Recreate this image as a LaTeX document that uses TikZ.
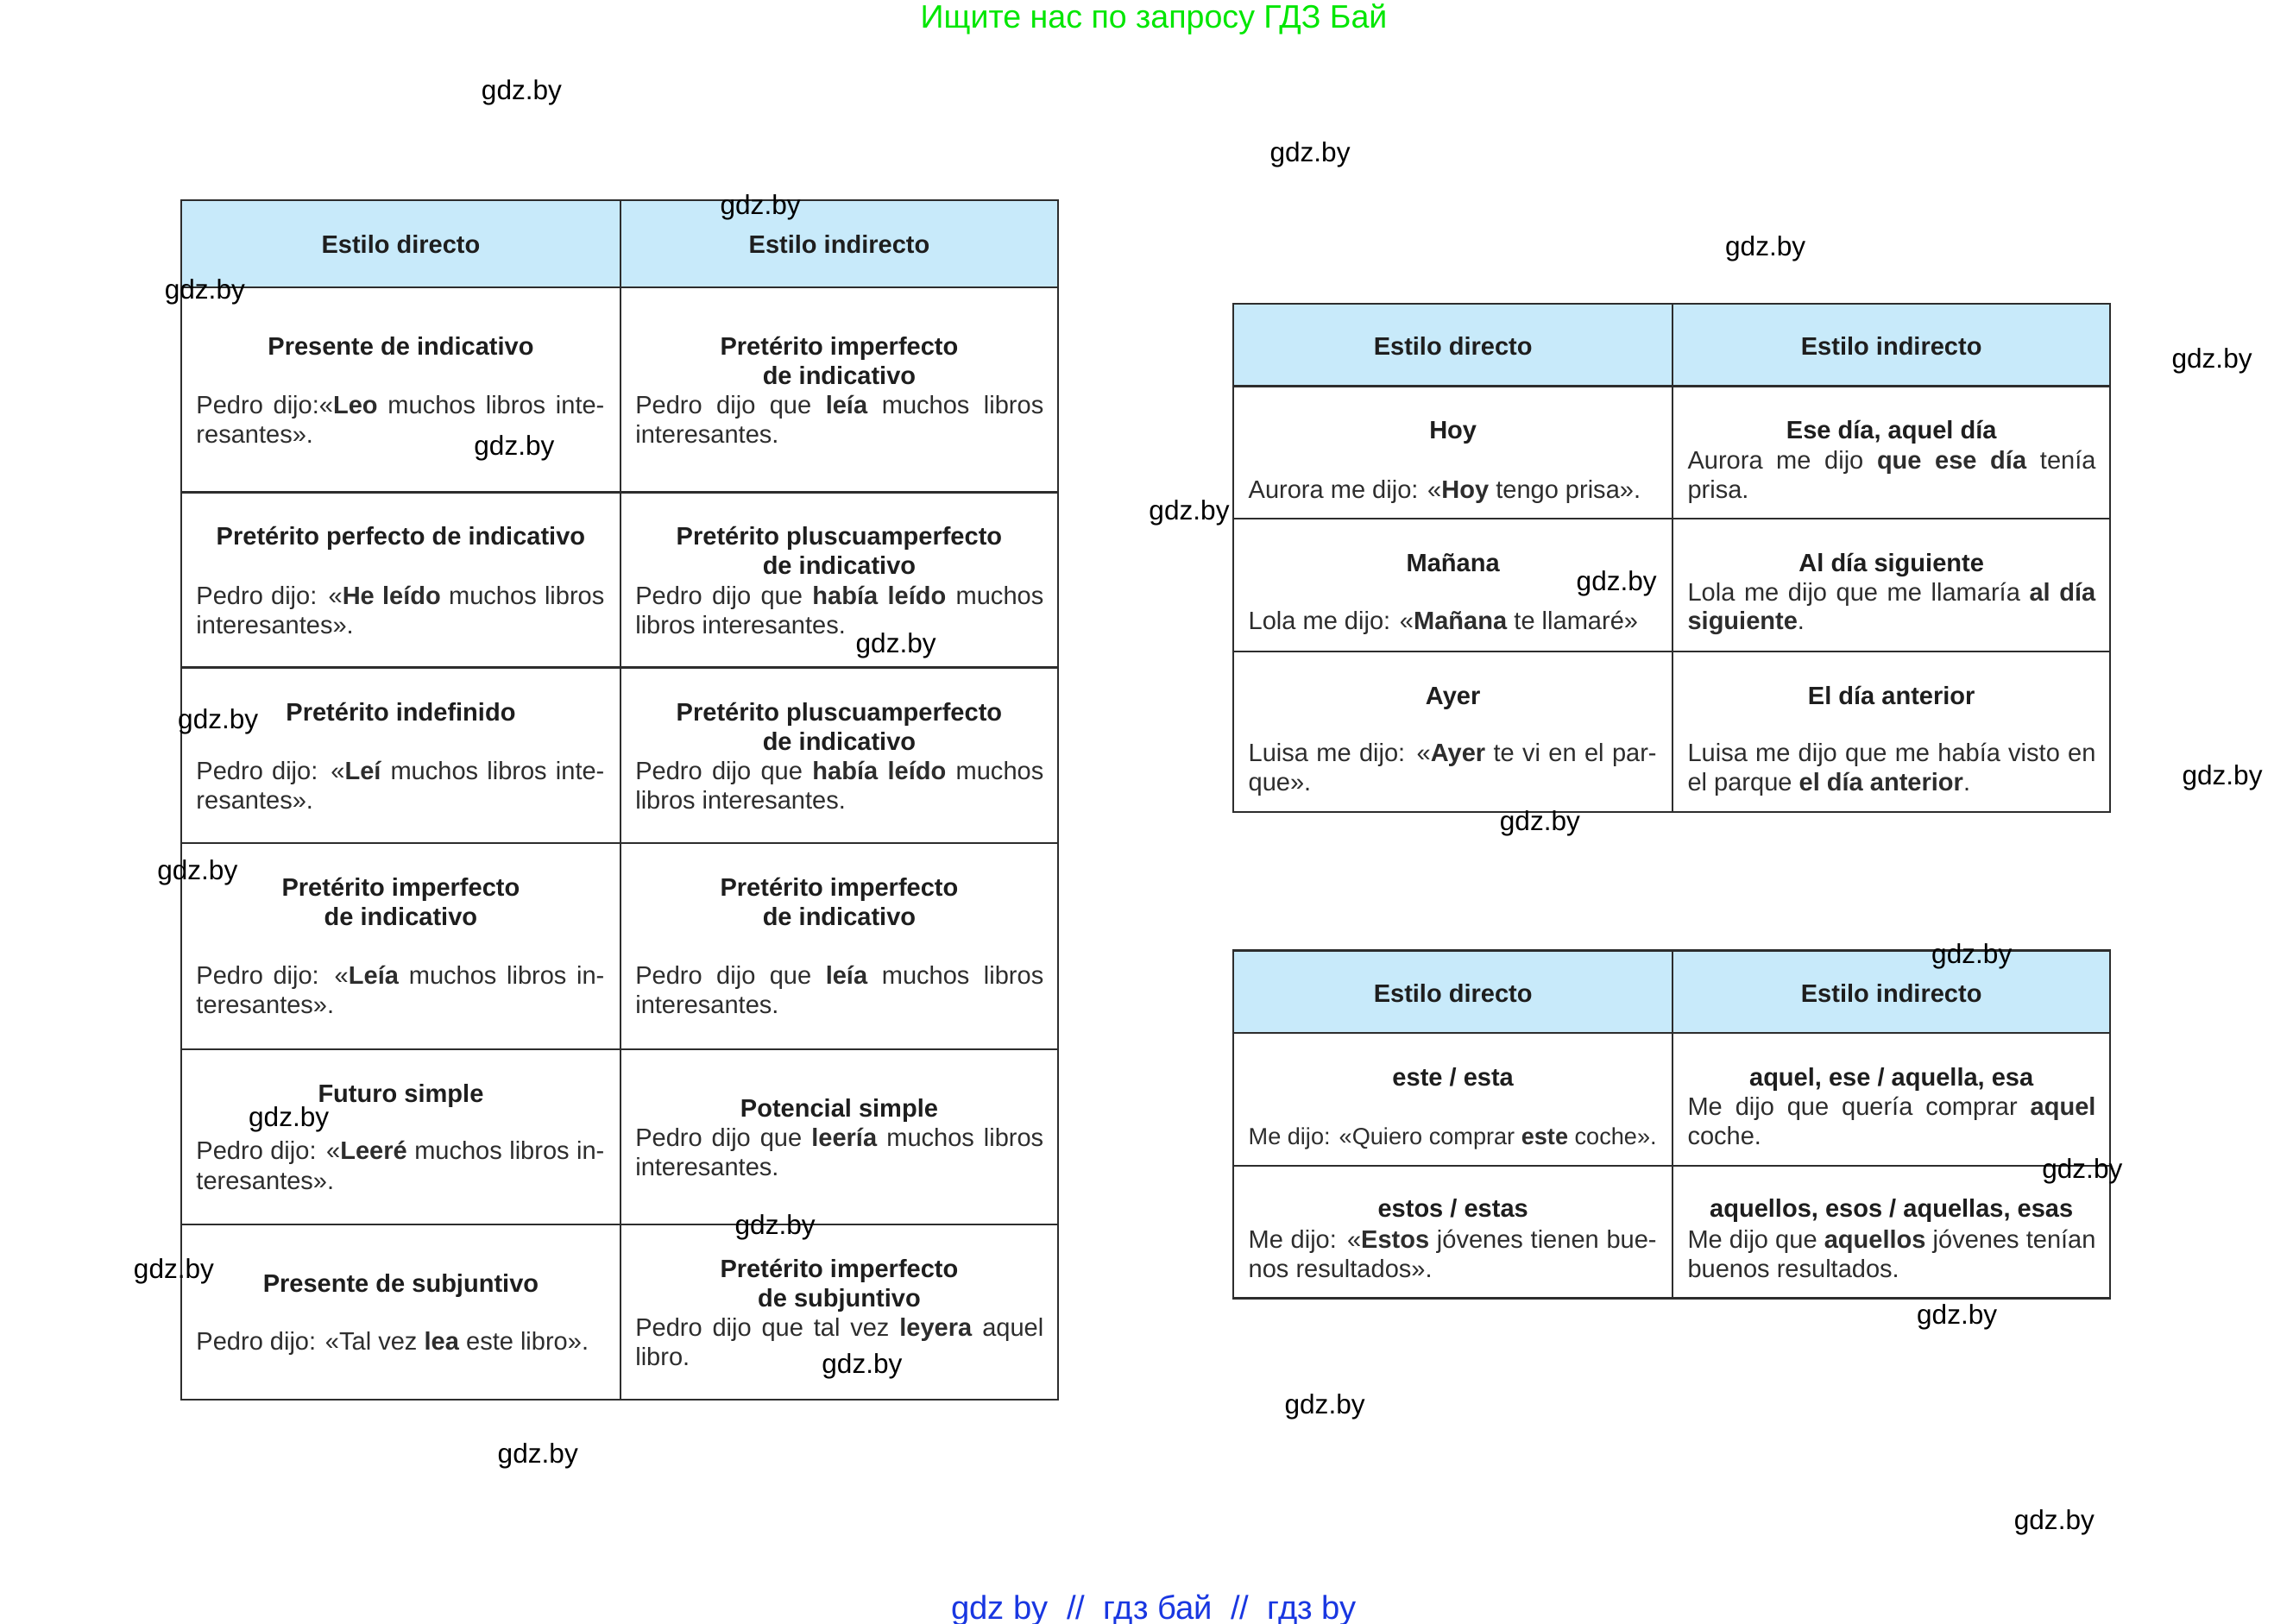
\documentclass[tikz,border=0pt]{standalone}
\usepackage{fontspec}
\setmainfont{Liberation Sans}
\definecolor{hdr}{RGB}{200,234,250}
\definecolor{gridc}{RGB}{45,45,45}
\definecolor{ttlc}{RGB}{30,30,30}
\definecolor{txtc}{RGB}{45,45,45}
\definecolor{topgreen}{RGB}{0,230,0}
\definecolor{botblue}{RGB}{25,55,225}
\newcommand\jl[1]{\makebox[277pt][s]{#1}}
\tikzset{
  ttl/.style={anchor=base, inner sep=0pt, text=ttlc, font=\fontsize{17}{20}\selectfont\bfseries},
  txt/.style={anchor=base west, inner sep=0pt, text=txtc, font=\fontsize{17}{20}\selectfont},
  gridline/.style={draw=gridc, line width=1.4pt},
  wm/.style={anchor=center, inner sep=0pt, text=black, font=\fontsize{18.5}{20}\selectfont},
}
\begin{document}
\begin{tikzpicture}[x=1pt,y=-1pt]
\useasboundingbox (0,0) rectangle (1556,1102);
\fill[white] (0,0) rectangle (1556,1102);

% ---------------- Table 1 ----------------
\fill[hdr] (123,136) rectangle (718,195);
\draw[gridline] (123,136) rectangle (718,950);
\draw[gridline] (421,136) -- (421,950);
\foreach \yy in {195,334,453,572,712,831} \draw[gridline] (123,\yy) -- (718,\yy);

\node[ttl] (a0l) at (272,172) {Estilo directo};
\node[ttl] (a0r) at (569.5,172) {Estilo indirecto};

\node[ttl] (a1lt) at (272,241) {Presente de indicativo};
\node[txt] (a1l1) at (133,281) {\jl{Pedro dijo:«\textbf{Leo} muchos libros inte-}};
\node[txt] (a1l2) at (133,301) {resantes».};
\node[ttl] (a1rt) at (569.5,241) {Pretérito imperfecto};
\node[ttl] (a1rt2) at (569.5,261) {de indicativo};
\node[txt] (a1r1) at (431,281) {\jl{Pedro dijo que \textbf{leía} muchos libros}};
\node[txt] (a1r2) at (431,301) {interesantes.};

\node[ttl] (a2lt) at (272,370) {Pretérito perfecto de indicativo};
\node[txt] (a2l1) at (133,410) {\jl{Pedro dijo: «\textbf{He leído} muchos libros}};
\node[txt] (a2l2) at (133,430) {interesantes».};
\node[ttl] (a2rt) at (569.5,370) {Pretérito pluscuamperfecto};
\node[ttl] (a2rt2) at (569.5,390) {de indicativo};
\node[txt] (a2r1) at (431,410) {\jl{Pedro dijo que \textbf{había leído} muchos}};
\node[txt] (a2r2) at (431,430) {libros interesantes.};

\node[ttl] (a3lt) at (272,489) {Pretérito indefinido};
\node[txt] (a3l1) at (133,529) {\jl{Pedro dijo: «\textbf{Leí} muchos libros inte-}};
\node[txt] (a3l2) at (133,549) {resantes».};
\node[ttl] (a3rt) at (569.5,489) {Pretérito pluscuamperfecto};
\node[ttl] (a3rt2) at (569.5,509) {de indicativo};
\node[txt] (a3r1) at (431,529) {\jl{Pedro dijo que \textbf{había leído} muchos}};
\node[txt] (a3r2) at (431,549) {libros interesantes.};

\node[ttl] (a4lt) at (272,608) {Pretérito imperfecto};
\node[ttl] (a4lt2) at (272,628) {de indicativo};
\node[txt] (a4l1) at (133,668) {\jl{Pedro dijo: «\textbf{Leía} muchos libros in-}};
\node[txt] (a4l2) at (133,688) {teresantes».};
\node[ttl] (a4rt) at (569.5,608) {Pretérito imperfecto};
\node[ttl] (a4rt2) at (569.5,628) {de indicativo};
\node[txt] (a4r1) at (431,668) {\jl{Pedro dijo que \textbf{leía} muchos libros}};
\node[txt] (a4r2) at (431,688) {interesantes.};

\node[ttl] (a5lt) at (272,748) {Futuro simple};
\node[txt] (a5l1) at (133,787) {\jl{Pedro dijo: «\textbf{Leeré} muchos libros in-}};
\node[txt] (a5l2) at (133,807) {teresantes».};
\node[ttl] (a5rt) at (569.5,758) {Potencial simple};
\node[txt] (a5r1) at (431,778) {\jl{Pedro dijo que \textbf{leería} muchos libros}};
\node[txt] (a5r2) at (431,798) {interesantes.};

\node[ttl] (a6lt) at (272,877) {Presente de subjuntivo};
\node[txt] (a6l1) at (133,916) {Pedro dijo: «Tal vez \textbf{lea} este libro».};
\node[ttl] (a6rt) at (569.5,867) {Pretérito imperfecto};
\node[ttl] (a6rt2) at (569.5,887) {de subjuntivo};
\node[txt] (a6r1) at (431,907) {\jl{Pedro dijo que tal vez \textbf{leyera} aquel}};
\node[txt] (a6r2) at (431,927) {libro.};

% ---------------- Table 2 ----------------
\fill[hdr] (837,206) rectangle (1432,262);
\draw[gridline] (837,206) rectangle (1432,551);
\draw[gridline] (1135,206) -- (1135,551);
\foreach \yy in {262,352,442} \draw[gridline] (837,\yy) -- (1432,\yy);

\node[ttl] (b0l) at (986,241) {Estilo directo};
\node[ttl] (b0r) at (1283.5,241) {Estilo indirecto};

\node[ttl] (b1lt) at (986,298) {Hoy};
\node[txt] (b1l1) at (847,338) {Aurora me dijo: «\textbf{Hoy} tengo prisa».};
\node[ttl] (b1rt) at (1283.5,298) {Ese día, aquel día};
\node[txt] (b1r1) at (1145,318) {\jl{Aurora me dijo \textbf{que ese día} tenía}};
\node[txt] (b1r2) at (1145,338) {prisa.};

\node[ttl] (b2lt) at (986,388) {Mañana};
\node[txt] (b2l1) at (847,427) {Lola me dijo: «\textbf{Mañana} te llamaré»};
\node[ttl] (b2rt) at (1283.5,388) {Al día siguiente};
\node[txt] (b2r1) at (1145,408) {\jl{Lola me dijo que me llamaría \textbf{al día}}};
\node[txt] (b2r2) at (1145,427) {\textbf{siguiente}.};

\node[ttl] (b3lt) at (986,478) {Ayer};
\node[txt] (b3l1) at (847,517) {\jl{Luisa me dijo: «\textbf{Ayer} te vi en el par-}};
\node[txt] (b3l2) at (847,537) {que».};
\node[ttl] (b3rt) at (1283.5,478) {El día anterior};
\node[txt] (b3r1) at (1145,517) {\jl{Luisa me dijo que me había visto en}};
\node[txt] (b3r2) at (1145,537) {el parque \textbf{el día anterior}.};

% ---------------- Table 3 ----------------
\fill[hdr] (837,645) rectangle (1432,701);
\draw[gridline] (837,645) rectangle (1432,881);
\draw[gridline] (1135,645) -- (1135,881);
\foreach \yy in {701,791} \draw[gridline] (837,\yy) -- (1432,\yy);

\node[ttl] (c0l) at (986,680) {Estilo directo};
\node[ttl] (c0r) at (1283.5,680) {Estilo indirecto};

\node[ttl] (c1lt) at (986,737) {este / esta};
\node[txt] (c1l1) at (847,777) {\resizebox{277pt}{!}{Me dijo: «Quiero comprar \textbf{este} coche».}};
\node[ttl] (c1rt) at (1283.5,737) {aquel, ese / aquella, esa};
\node[txt] (c1r1) at (1145,757) {\jl{Me dijo que quería comprar \textbf{aquel}}};
\node[txt] (c1r2) at (1145,777) {coche.};

\node[ttl] (c2lt) at (986,826) {estos / estas};
\node[txt] (c2l1) at (847,847) {\jl{Me dijo: «\textbf{Estos} jóvenes tienen bue-}};
\node[txt] (c2l2) at (847,867) {nos resultados».};
\node[ttl] (c2rt) at (1283.5,826) {aquellos, esos / aquellas, esas};
\node[txt] (c2r1) at (1145,847) {\jl{Me dijo que \textbf{aquellos} jóvenes tenían}};
\node[txt] (c2r2) at (1145,867) {buenos resultados.};

% ---------------- Header / footer ----------------
\node[anchor=center, inner sep=0pt, text=topgreen, font=\fontsize{22}{24}\selectfont] (top) at (783,13) {Ищите нас по запросу ГДЗ Бай};
\node[anchor=center, inner sep=0pt, text=botblue, font=\fontsize{22.4}{24}\selectfont] (bot) at (783,1093) {gdz by\ \ //\ \ гдз бай\ \ //\ \ гдз by};

% ---------------- Watermarks ----------------
\foreach \wx/\wy [count=\i] in {354/63, 889/105, 516/141, 1198/169, 139/198, 1501/245, 349/304, 807/348, 1097/396, 608/438, 148/490, 1508/528, 1045/559, 134/592, 1338/649, 196/760, 1413/795, 526/833, 118/863, 1328/894, 585/927, 899/955, 365/988, 1394/1033}
  \node[wm] (wm\i) at (\wx,\wy) {gdz.by};
\end{tikzpicture}
\end{document}
